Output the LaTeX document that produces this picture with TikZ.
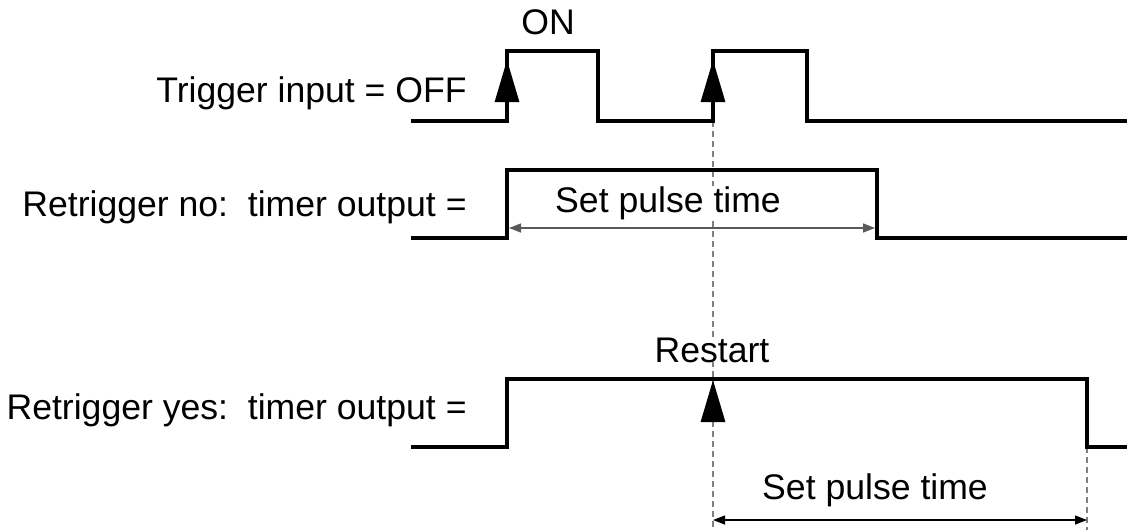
\documentclass[tikz,border=0pt]{standalone}
\usepackage{fontspec}
\setmainfont{Liberation Sans}
\usetikzlibrary{arrows.meta}

\begin{document}
\begin{tikzpicture}[x=0.5pt, y=-0.5pt,
    signal/.style={line width=2pt},
    edgetip/.style={-{Triangle[width=12pt,length=21pt]}, line width=1.5pt},
    span/.style={{Triangle[width=4.5pt,length=6pt]}-{Triangle[width=4.5pt,length=6pt]}, line width=0.7pt, draw=black!65},
    guide/.style={draw=black!50, line width=0.6pt, dash pattern=on 3pt off 2pt},
    lbl/.style={font=\fontsize{17.8}{21}\selectfont, inner sep=0pt, fill=white}]
    \useasboundingbox (0,0) rectangle (1127,530);

    \coordinate (g1top) at (713,121);
    \coordinate (g1bot) at (713,530);
    \coordinate (g2top) at (1087,447);
    \coordinate (g2bot) at (1087,530);
    \draw[guide] (g1top) -- (g1bot);
    \draw[guide] (g2top) -- (g2bot);

    \node[lbl, anchor=east] (trig) at (467,93) {Trigger input = OFF};
    \node[lbl] (on) at (548,22) {ON};
    \node[lbl, anchor=east] (rno) at (467,207) {Retrigger no:~~timer output =};
    \node[lbl, anchor=east] (ryes) at (467,410) {Retrigger yes:~~timer output =};
    \node[lbl] (pulseno) at (668,203) {Set pulse time};
    \node[lbl] (restart) at (712,350) {Restart};
    \node[lbl] (pulseyes) at (875,490) {Set pulse time};

    \draw[signal] (411,121) -- (507,121) -- (507,51) -- (598,51) -- (598,121)
        -- (713,121) -- (713,51) -- (807,51) -- (807,121) -- (1127,121);
    \draw[signal] (411,238) -- (507,238) -- (507,170) -- (877,170) -- (877,238) -- (1127,238);
    \draw[signal] (411,447) -- (507,447) -- (507,379) -- (1087,379) -- (1087,447) -- (1127,447);

    \coordinate (e1) at (507,121);
    \coordinate (e1tip) at (507,60);
    \coordinate (e2) at (713,121);
    \coordinate (e2tip) at (713,60);
    \coordinate (e3) at (713,421);
    \coordinate (e3tip) at (713,380);
    \draw[edgetip] (e1) -- (e1tip);
    \draw[edgetip] (e2) -- (e2tip);
    \draw[edgetip] (e3) -- (e3tip);

    \coordinate (s1a) at (509,228);
    \coordinate (s1b) at (875,228);
    \coordinate (s2a) at (713,520);
    \coordinate (s2b) at (1087,520);
    \draw[span] (s1a) -- (s1b);
    \draw[span, draw=black] (s2a) -- (s2b);
\end{tikzpicture}
\end{document}
